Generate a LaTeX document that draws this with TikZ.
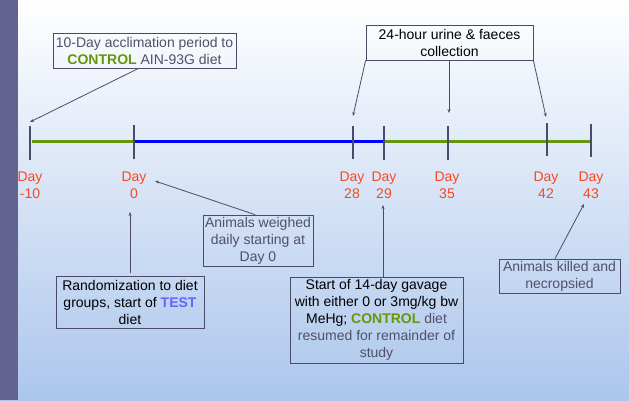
\documentclass[tikz,border=0pt]{standalone}
\usepackage{fontspec}
\setmainfont{Liberation Sans}
\usetikzlibrary{arrows.meta}
\definecolor{dayred}{RGB}{250,72,30}
\definecolor{dietgreen}{RGB}{102,150,10}
\definecolor{testblue}{RGB}{100,100,255}
\definecolor{framegray}{RGB}{75,75,105}
\definecolor{txtgray}{RGB}{80,80,105}
\definecolor{barpurple}{RGB}{99,99,143}
\definecolor{bgblue}{RGB}{172,198,236}
\tikzset{
  infobox/.style={draw=framegray, line width=0.8pt, align=center, inner sep=0pt, font=\fontsize{14}{17}\selectfont},
  daylabel/.style={text=dayred, align=center, inner sep=0pt, font=\fontsize{14}{17}\selectfont},
  daytick/.style={line width=1.1pt, color=framegray},
  pointer/.style={draw=framegray, line width=0.8pt, -{Stealth[length=4pt,width=3pt]}},
}

\begin{document}
\begin{tikzpicture}[x=1pt,y=-1pt]
		%%%%% START %%%%%
		\useasboundingbox (0,0) rectangle (629,400);
		\shade[top color=white, bottom color=bgblue] (0,0) rectangle (629,400);
		\fill[barpurple] (0,0) rectangle (18,400);
		
		\draw[line width=3.5pt, color=dietgreen] (32,141.5) -- (134,141.5);
		\draw[line width=3.5pt, color=blue] (134,141.5) -- (384,141.5);
		\draw[line width=3.5pt, color=dietgreen] (384,141.5) -- (591,141.5);
		
		\draw[daytick] (30,126) -- (30,160);
		\draw[daytick] (134,125) -- (134,159);
		\draw[daytick] (353,126) -- (353,159);
		\draw[daytick] (384,126) -- (384,160);
		\draw[daytick] (448,126) -- (448,160);
		\draw[daytick] (547,123) -- (547,156);
		\draw[daytick] (591,124) -- (591,157);
		
		\node[daylabel] (dm10) at (30,185) {Day\\-10};
		\node[daylabel] (d0) at (134,185) {Day\\0};
		\node[daylabel] (d28) at (352,185) {Day\\28};
		\node[daylabel] (d29) at (384,185) {Day\\29};
		\node[daylabel] (d35) at (447,185) {Day\\35};
		\node[daylabel] (d42) at (546,185) {Day\\42};
		\node[daylabel] (d43) at (591,185) {Day\\43};
		
		\node[infobox, text=txtgray, minimum width=183pt, minimum height=35pt] (accl) at (144.5,50.5)
			{10-Day acclimation period to\\\textcolor{dietgreen}{\textbf{CONTROL}} AIN-93G diet};
		\node[infobox, text=black, minimum width=167pt, minimum height=35pt] (urine) at (449.5,42.5)
			{24-hour urine \& faeces\\collection};
		\node[infobox, text=txtgray, minimum width=110pt, minimum height=51pt] (weigh) at (258,240.5)
			{Animals weighed\\daily starting at\\Day 0};
		\node[infobox, text=black, minimum width=148pt, minimum height=52pt] (rand) at (130,302)
			{Randomization to diet\\groups, start of \textcolor{testblue}{\textbf{TEST}}\\diet};
		\node[infobox, text=black, minimum width=173pt, minimum height=86pt] (gav) at (376.5,320)
			{Start of 14-day gavage\\with either 0 or 3mg/kg bw\\MeHg; \textcolor{dietgreen}{\textbf{CONTROL}} \textcolor{txtgray}{diet}\\\textcolor{txtgray}{resumed for remainder of}\\\textcolor{txtgray}{study}};
		\node[infobox, text=txtgray, minimum width=121pt, minimum height=34pt] (kill) at (559.5,276)
			{Animals killed and\\necropsied};
		
		\coordinate (tipacc) at (30,122);
		\coordinate (tip28) at (353,116);
		\coordinate (tip35) at (449,113);
		\coordinate (tip42) at (546,117);
		\coordinate (tipweigh) at (155,181);
		\coordinate (tiprand) at (130,212);
		\coordinate (tipgav) at (383,205);
		\coordinate (tipkill) at (584,204);
		
		\draw[pointer] ([xshift=-6pt]accl.south) -- (tipacc);
		\draw[pointer] (urine.south west) -- (tip28);
		\draw[pointer] (urine.south -| tip35) -- (tip35);
		\draw[pointer] (urine.south east) -- (tip42);
		\draw[pointer] ([xshift=-3pt]weigh.north) -- (tipweigh);
		\draw[pointer] ([yshift=3pt]rand.north) -- (tiprand);
		\draw[pointer] (gav.north -| tipgav) -- (tipgav);
		\draw[pointer] ([xshift=-4.5pt]kill.north) -- (tipkill);
		
		%%%%% END %%%%%
\end{tikzpicture}
\end{document}
